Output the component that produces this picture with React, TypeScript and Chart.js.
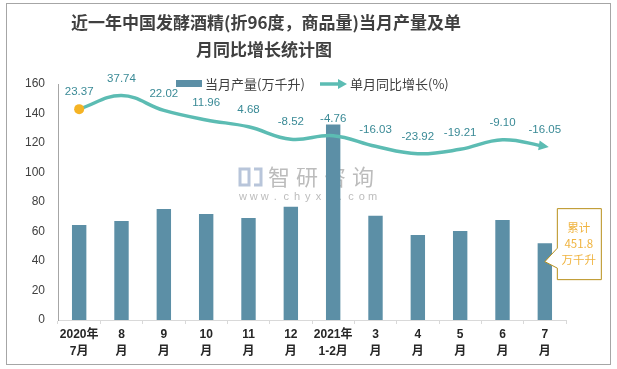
import React, { useEffect, useRef } from 'react';
import { Chart, registerables } from 'chart.js';

Chart.register(...registerables);

const categories: string[][] = [
  ['2020年', '7月'], ['8', '月'], ['9', '月'], ['10', '月'], ['11', '月'], ['12', '月'],
  ['2021年', '1-2月'], ['3', '月'], ['4', '月'], ['5', '月'], ['6', '月'], ['7', '月'],
];
const production = [64.4, 67.1, 75.3, 71.9, 69.2, 76.7, 132.6, 70.6, 57.6, 60.3, 67.8, 52.1];
const growth = [23.37, 37.74, 22.02, 11.96, 4.68, -8.52, -4.76, -16.03, -23.92, -19.21, -9.1, -16.05];
const titleLines = ['近一年中国发酵酒精(折96度，商品量)当月产量及单', '月同比增长统计图'];
const legendLabels = ['当月产量(万千升)', '单月同比增长(%)'];
const calloutLines = ['累计', '451.8', '万千升'];
const watermarkText = '智研咨询';
const watermarkUrl = 'www.chyxx.com';

const BAR_COLOR = '#5c8fa6';
const LINE_COLOR = '#5cbcb3';
const LABEL_COLOR = '#3a8a96';
const CJK = "'Noto Sans CJK SC', 'Liberation Sans', sans-serif";

const customPlugin = {
  id: 'customDecor',
  beforeDraw(chart: any) {
    const ctx = chart.ctx;
    ctx.save();
    ctx.fillStyle = '#ffffff';
    ctx.fillRect(0, 0, chart.width, chart.height);
    ctx.restore();
  },
  beforeDatasetsDraw(chart: any) {
    const ctx = chart.ctx;
    ctx.save();
    // logo
    ctx.strokeStyle = 'rgba(160,178,205,0.75)';
    ctx.lineWidth = 3;
    ctx.strokeRect(240, 169, 9, 16);
    ctx.beginPath();
    ctx.moveTo(254, 169);
    ctx.lineTo(261, 169);
    ctx.lineTo(261, 185);
    ctx.lineTo(254, 185);
    ctx.stroke();
    ctx.fillStyle = 'rgba(160,160,160,0.7)';
    ctx.font = `22px ${CJK}`;
    ctx.textBaseline = 'middle';
    ctx.textAlign = 'center';
    const chars = Array.from(watermarkText);
    chars.forEach((c, i) => ctx.fillText(c, 279 + i * 28, 177));
    ctx.font = "11px 'Liberation Sans', sans-serif";
    const uc = Array.from(watermarkUrl);
    uc.forEach((c, i) => ctx.fillText(c, 243 + i * 10.8, 197));
    ctx.restore();
  },
  afterDatasetsDraw(chart: any) {
    const ctx = chart.ctx;
    const lineMeta = chart.getDatasetMeta(1);
    const pts = lineMeta.data;
    ctx.save();
    // arrow at end of line
    const last = pts[pts.length - 1];
    const cx = last.cp1x ?? pts[pts.length - 2].x;
    const cy = last.cp1y ?? pts[pts.length - 2].y;
    const ang = Math.atan2(last.y - cy, last.x - cx);
    const dx = Math.cos(ang), dy = Math.sin(ang);
    const tipX = last.x + dx * 4, tipY = last.y + dy * 4;
    const baseX = last.x - dx * 6, baseY = last.y - dy * 6;
    ctx.fillStyle = LINE_COLOR;
    ctx.beginPath();
    ctx.moveTo(tipX, tipY);
    ctx.lineTo(baseX - dy * 5, baseY + dx * 5);
    ctx.lineTo(baseX + dy * 5, baseY - dx * 5);
    ctx.closePath();
    ctx.fill();
    // data labels
    ctx.fillStyle = LABEL_COLOR;
    ctx.font = "11.5px 'Liberation Sans', sans-serif";
    ctx.textAlign = 'center';
    ctx.textBaseline = 'middle';
    pts.forEach((p: any, i: number) => {
      ctx.fillText(growth[i].toFixed(2), p.x, p.y - 17);
    });
    ctx.restore();
    // callout
    const barMeta = chart.getDatasetMeta(0);
    const bar = barMeta.data[barMeta.data.length - 1];
    const left = bar.x + 12, top = bar.y - 35, w = 44, h = 71;
    const tx = bar.x, ty = bar.y + 18.5;
    ctx.save();
    ctx.beginPath();
    ctx.moveTo(left + 0.5, top + 0.5);
    ctx.lineTo(left + w + 0.5, top + 0.5);
    ctx.lineTo(left + w + 0.5, top + h + 0.5);
    ctx.lineTo(left + 0.5, top + h + 0.5);
    ctx.lineTo(left + 0.5, top + 60);
    ctx.lineTo(tx, ty);
    ctx.lineTo(left + 0.5, top + 40);
    ctx.closePath();
    ctx.fillStyle = '#ffffff';
    ctx.fill();
    ctx.strokeStyle = '#b8901a';
    ctx.lineWidth = 1;
    ctx.stroke();
    ctx.fillStyle = '#f0b440';
    ctx.font = `11.5px ${CJK}`;
    ctx.textAlign = 'center';
    ctx.textBaseline = 'middle';
    const cxm = left + w / 2;
    calloutLines.forEach((t, i) => ctx.fillText(t, cxm, top + 19 + i * 16));
    ctx.restore();
  },
  afterDraw(chart: any) {
    const ctx = chart.ctx;
    ctx.save();
    // outer border
    ctx.strokeStyle = '#a6a6a6';
    ctx.lineWidth = 1;
    ctx.strokeRect(6.5, 3.5, 604, 361);
    // title
    ctx.fillStyle = '#404040';
    ctx.font = `bold 17px ${CJK}`;
    ctx.textAlign = 'center';
    ctx.textBaseline = 'middle';
    ctx.fillText(titleLines[0], 266, 23);
    ctx.fillText(titleLines[1], 264, 50);
    // legend
    ctx.fillStyle = BAR_COLOR;
    ctx.fillRect(176, 80, 26, 7);
    ctx.fillStyle = '#404040';
    ctx.font = `13px ${CJK}`;
    ctx.textAlign = 'left';
    ctx.fillText(legendLabels[0], 205, 84);
    ctx.strokeStyle = LINE_COLOR;
    ctx.lineWidth = 3.5;
    ctx.beginPath();
    ctx.moveTo(320, 84);
    ctx.lineTo(339, 84);
    ctx.stroke();
    ctx.fillStyle = LINE_COLOR;
    ctx.beginPath();
    ctx.moveTo(347, 84);
    ctx.lineTo(338, 79);
    ctx.lineTo(338, 89);
    ctx.closePath();
    ctx.fill();
    ctx.fillStyle = '#404040';
    ctx.fillText(legendLabels[1], 350, 84);
    ctx.restore();
  },
};

export default function App() {
  const ref = useRef<HTMLCanvasElement>(null);
  useEffect(() => {
    if (!ref.current) return;
    const chart = new Chart(ref.current, {
      type: 'bar',
      data: {
        labels: categories,
        datasets: [
          {
            type: 'bar',
            label: legendLabels[0],
            data: production,
            backgroundColor: BAR_COLOR,
            yAxisID: 'y',
            categoryPercentage: 1,
            barPercentage: 0.34,
            order: 2,
          },
          {
            type: 'line',
            label: legendLabels[1],
            data: growth,
            yAxisID: 'y2',
            borderColor: LINE_COLOR,
            borderWidth: 3.5,
            tension: 0.4,
            pointRadius: (c: any) => (c.dataIndex === 0 ? 5 : 0),
            pointBackgroundColor: '#f5b324',
            pointBorderWidth: 0,
            order: 1,
          } as any,
        ],
      },
      options: {
        responsive: false,
        animation: false,
        events: [],
        layout: { padding: { left: 0, right: 51, top: 84, bottom: 0 } },
        plugins: {
          legend: { display: false },
          title: { display: false },
          tooltip: { enabled: false },
        },
        scales: {
          x: {
            offset: true,
            grid: {
              display: true,
              drawOnChartArea: false,
              drawTicks: true,
              tickLength: 4,
              color: '#d9d9d9',
              offset: true,
            },
            border: { display: true, color: '#d9d9d9', width: 1 },
            ticks: {
              color: '#262626',
              padding: 3,
              autoSkip: false,
              maxRotation: 0,
              font: { size: 12, weight: 'bold', family: "'Liberation Sans', 'Noto Sans CJK SC', sans-serif", lineHeight: 1.35 },
            },
            afterFit: (s: any) => { s.height = 49; },
          },
          y: {
            min: 0,
            max: 160,
            grid: { display: false, drawTicks: false },
            border: { display: true, color: '#a6a6a6', width: 1 },
            ticks: {
              stepSize: 20,
              color: '#404040',
              padding: 13,
              font: { size: 12, family: "'Liberation Sans', sans-serif" },
            },
            afterFit: (s: any) => { s.width = 58; },
          },
          y2: {
            display: false,
            min: -200,
            max: 50,
          },
        },
      },
      plugins: [customPlugin],
    });
    return () => chart.destroy();
  }, []);
  return (
    <div style={{ position: 'absolute', left: 0, top: 0, width: 617, height: 369 }}>
      <canvas ref={ref} width={617} height={369} style={{ width: 617, height: 369, display: 'block' }} />
    </div>
  );
}
